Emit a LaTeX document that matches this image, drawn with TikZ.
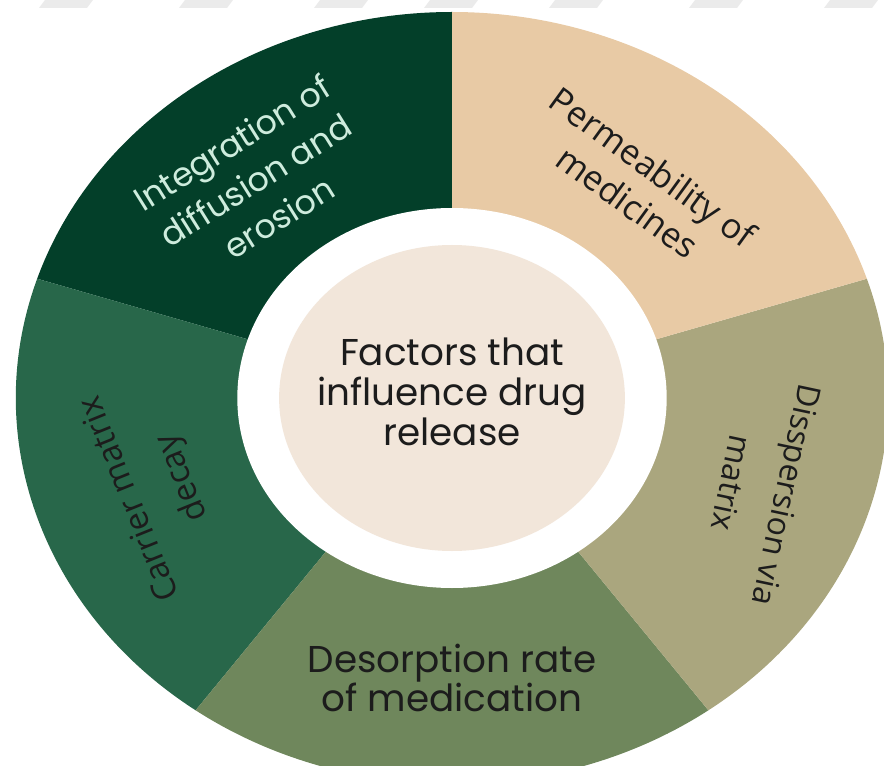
\documentclass[tikz,border=0pt]{standalone}
\usepackage{fontspec}
\setmainfont{Poppins}
\newfontfamily\opensans{Open Sans}
\definecolor{darkpine}{RGB}{3,63,41}
\definecolor{forest}{RGB}{40,103,74}
\definecolor{moss}{RGB}{111,135,92}
\definecolor{khaki}{RGB}{170,166,126}
\definecolor{sand}{RGB}{232,202,165}
\definecolor{cream}{RGB}{242,230,218}
\definecolor{mint}{RGB}{206,236,221}
\definecolor{ink}{RGB}{28,28,28}
\tikzset{
    seglabel/.style={align=center, text=ink, font=\opensans\fontsize{24}{42}\selectfont},
    hublabel/.style={align=center, text=ink, font=\fontsize{28}{30}\selectfont},
}

\begin{document}
\begin{tikzpicture}[x=0.75pt,y=0.75pt]
    \useasboundingbox (0,0) rectangle (884,765);
    \clip (0,0) rectangle (884,765);

    \foreach \x in {45,185,320,430,555,695,830}
        \fill[black!8] (\x,765) -- (\x+48,765) -- (\x+42,757) -- (\x-6,757) -- cycle;

    \begin{scope}[shift={(452,367)}, xscale=1.13]
        \fill[darkpine] (0,0) -- (90:386) arc[start angle=90, end angle=162, radius=386] -- cycle;
        \fill[forest] (0,0) -- (162:386) arc[start angle=162, end angle=234, radius=386] -- cycle;
        \fill[moss] (0,0) -- (234:386) arc[start angle=234, end angle=306, radius=386] -- cycle;
        \fill[khaki] (0,0) -- (306:386) arc[start angle=306, end angle=378, radius=386] -- cycle;
        \fill[sand] (0,0) -- (18:386) arc[start angle=18, end angle=90, radius=386] -- cycle;
        \fill[white] (0,0) circle (190);
        \fill[cream] (0,0) circle (153);

        \node[hublabel] (hub) at (0,6) {Factors that\\influence drug\\release};
        \node[hublabel, text=mint, rotate=32, font=\fontsize{25}{33}\selectfont] (integration) at (128.6:279) {Integration of\\diffusion and\\erosion};
        \node[seglabel, rotate=-36, font=\opensans\fontsize{26}{32}\selectfont] (permeability) at (52:271) {Permeability of\\medicines};
        \node[seglabel, rotate=-102] (dispersion) at (341.5:287) {Disspersion via\\matrix};
        \node[hublabel, font=\fontsize{28}{27}\selectfont] (desorption) at (270:280) {Desorption rate\\of medication};
        \node[seglabel, rotate=112, font=\opensans\fontsize{25}{42}\selectfont] (carrier) at (199:276) {Carrier matrix\\decay};
    \end{scope}
\end{tikzpicture}
\end{document}
